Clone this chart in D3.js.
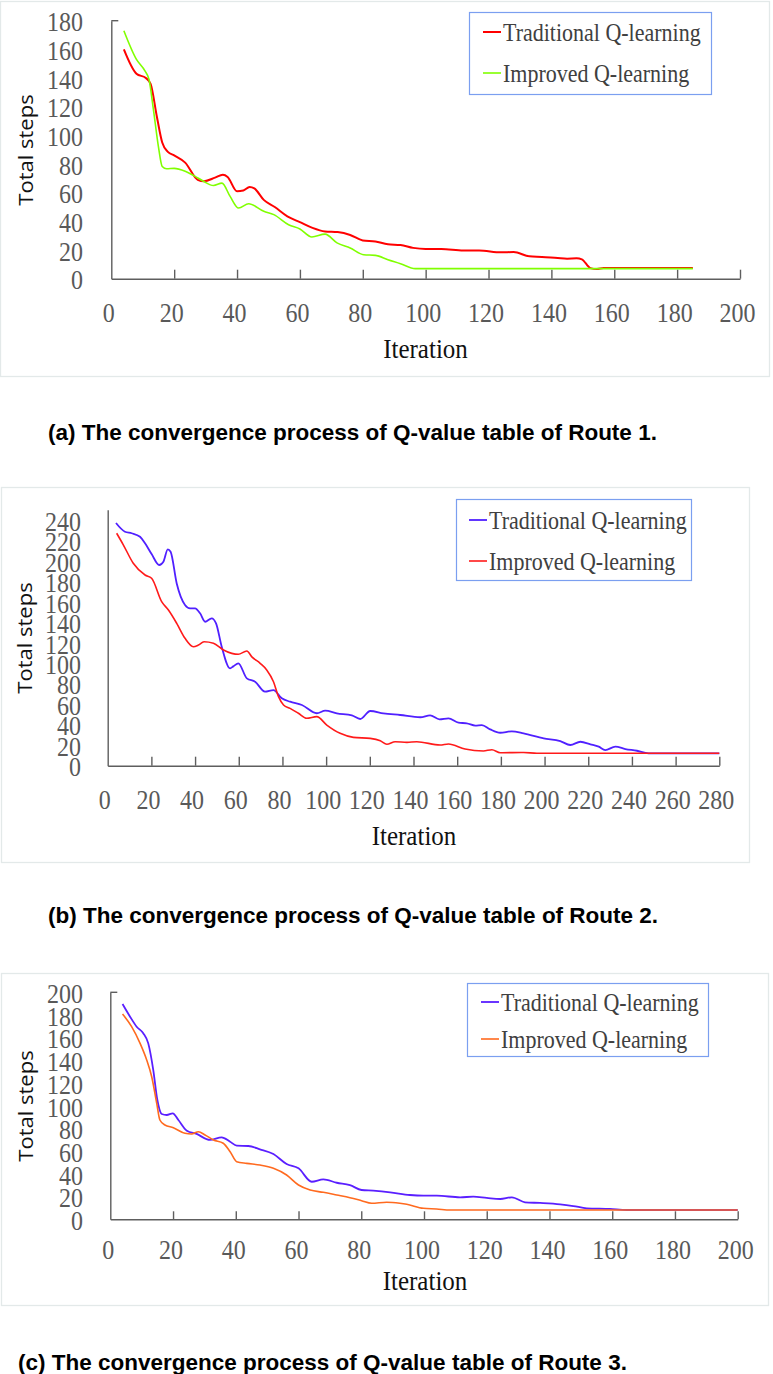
<!DOCTYPE html>
<html><head><meta charset="utf-8">
<script src="https://cdn.jsdelivr.net/npm/d3@7/dist/d3.min.js"></script>
<style>body{margin:0;background:#fff}svg{display:block}</style>
</head><body>
<svg id="chart" width="773" height="1374"></svg>
<script>
// ---------------- DATA ----------------
const seriesNames = ["Traditional Q-learning", "Improved Q-learning"];
const captions = [
  "(a) The convergence process of Q-value table of Route 1.",
  "(b) The convergence process of Q-value table of Route 2.",
  "(c) The convergence process of Q-value table of Route 3."
];
const xAxisTitle = "Iteration";
const yAxisTitle = "Total steps";

const xTicksA = [0, 20, 40, 60, 80, 100, 120, 140, 160, 180, 200];
const yTicksA = [0, 20, 40, 60, 80, 100, 120, 140, 160, 180];
const xTicksB = [0, 20, 40, 60, 80, 100, 120, 140, 160, 180, 200, 220, 240, 260, 280];
const yTicksB = [0, 20, 40, 60, 80, 100, 120, 140, 160, 180, 200, 220, 240];
const xTicksC = [0, 20, 40, 60, 80, 100, 120, 140, 160, 180, 200];
const yTicksC = [0, 20, 40, 60, 80, 100, 120, 140, 160, 180, 200];

// Route 1 : [iteration, total steps]
const route1Traditional = [[4,160],[8,143],[11,140],[12.5,136],[14.5,113],[16.2,95],[18,88.5],[20,86],[23.5,81],[27.5,69],[29.5,68],[33,70.5],[35.5,72.5],[37,71],[40,61],[42,61.5],[44,64],[45.5,63],[48.5,55],[52,50],[56,43.5],[60,39.5],[64,35.5],[68,33],[72,32.5],[76,30.5],[80,26.7],[84,26],[88,24],[92,23.5],[96,21.5],[100,20.7],[105,20.7],[112,19.7],[117,19.7],[124,18.4],[128,18.6],[133,15.6],[137,15.2],[142,14.4],[145,14],[148,14.2],[149.7,13.5],[152.4,7.4],[154.5,6.7],[156.6,7.4],[185,7.4]];
const route1Improved = [[4,173],[8,153],[10.7,145],[12,139],[13.4,118],[15,92],[16.2,78.3],[17.6,76.7],[20,77],[23.5,75],[26.7,71.4],[29.3,68],[32.5,65],[35.2,66.7],[37.8,57.4],[40.5,49.3],[43.7,52.3],[48.5,47],[51.7,44.7],[56.4,37.7],[60,34.7],[63.8,29.1],[68,31.1],[71.8,25],[76,21.4],[80.3,16.7],[84,16.3],[88,13.3],[92,10.5],[96.7,7],[185,7]];

// Route 2
const route2Traditional = [[3.8,237],[7.9,228.5],[11,227],[14.8,223.6],[17.1,217.2],[20.1,206.7],[23.6,196],[25.5,199.2],[27.5,211.3],[28.8,209],[31.6,178],[35.4,157],[37.7,153.7],[40,153.7],[42.3,148.8],[44.6,140.6],[47.6,143.9],[49.6,139],[52.2,116.2],[56,95.1],[57.5,97],[59.8,100],[63.7,85.3],[67.5,82],[72,72.3],[75.9,73.9],[79.7,65.8],[83.5,62.5],[88.9,59.3],[95.7,51.2],[99.6,53.7],[104.9,51.2],[111.8,49.2],[115.6,45.6],[120.2,53.4],[126.2,51.2],[133.9,49.5],[143.1,47.3],[147.6,49.2],[151.9,45.3],[156,46.3],[160.6,42],[164.4,41.4],[168.3,39.1],[171.3,39.7],[175.1,35.5],[179.7,32.2],[185,33.6],[190.4,31.6],[199.6,26.7],[207.2,24.1],[211.8,20.2],[216.4,23.4],[221,20.9],[224.8,18.6],[227.8,15.3],[232.4,18.6],[237,16.3],[242.3,14.6],[247.6,12.1],[280,12.1]];
const route2Improved = [[4.1,227],[7.2,215.5],[11.7,197.7],[17.1,186.2],[20.1,183],[24.7,160.2],[27.8,152],[31.6,139],[35.4,124.4],[39.2,116.2],[41.5,117.8],[44.1,121],[48.4,119.5],[53,113],[56.8,109.7],[59.8,108.8],[63.7,112],[66,106.3],[69.8,100],[72.8,93.5],[75.9,82],[78.2,67.4],[80.5,59.3],[83.5,56],[87.3,51.2],[91.1,46.3],[95.7,47.9],[100.3,39.7],[106.4,31.6],[112.5,27.7],[120.2,26.7],[124.8,24.4],[127.8,20.9],[131.6,23.4],[137,22.8],[141.5,23.4],[152.2,20.2],[156,21.2],[163.6,16.3],[172,14.4],[175.9,15.6],[179.7,12.7],[190.4,12.9],[196.5,12.1],[280,12.1]];

// Route 3
const route3Traditional = [[3.9,189.7],[6.3,178.5],[8.4,169.7],[10.5,163.9],[12.1,155],[13.7,131.5],[15,105.1],[16.4,92.8],[18,91.9],[19.9,93.4],[21.7,87.5],[24.4,78.1],[27.5,75.2],[31.8,69.9],[35.5,72.2],[38.2,68.4],[40.3,64.9],[44,64.6],[47.7,61.7],[52,57.5],[56.2,48.7],[60,44.9],[64.2,33.1],[67.9,35.2],[72.2,32.2],[76.4,30.1],[80.1,25.8],[83.8,25.2],[89.2,23.8],[95.5,21.4],[99.8,20.8],[104.1,20.8],[111.5,19.4],[115.7,19.9],[120,18.8],[124.3,17.9],[128,19.4],[132.2,15],[137,14.4],[143.4,13.2],[147.6,11.7],[151.9,9.7],[159.3,9.1],[164.6,8.2],[200,8.2]];
const route3Improved = [[3.9,180.9],[6.8,169.7],[9.5,155],[11.6,140.4],[13.2,125.6],[14.8,102.2],[15.8,87.5],[17.4,83.1],[20.1,80.7],[23.8,75.8],[25.9,75.2],[28.1,77.2],[30.2,74.3],[32.9,69.9],[36,67],[38.2,59.6],[40.3,50.8],[43.5,49.3],[47.7,47.8],[52,44.9],[56.2,39],[60,30.2],[63.7,25.8],[67.9,23.8],[72.2,21.4],[76.4,19],[80.1,16.4],[83.3,14.1],[88.1,15],[92.3,14.1],[94.5,13.2],[99.8,9.7],[104,9.1],[108.4,8.2],[200,8.2]];

// ---------------- LAYOUT / STYLE ----------------
const svg = d3.select("#chart");
const K = 1.1; // vertical stretch of the source image text
const SERIF = "'Liberation Serif','Times New Roman',serif";
const axisColor = "#5e5e5e";
const tickTextColor = "#595959";

const panels = [
  { box:[0.5,1.5,769,375], xr:[111.3,740], yr:[278.7,20.7], xDom:[0,200], yDom:[0,180],
    xTicks:xTicksA, yTicks:yTicksA, topTick:true, tickLen:9, xLabelY:313.5, xLabelDx:-3, yLabelRight:83,
    legend:[469.5,12.5,242,82], legRowY:[32,73], legLineX:[483,501], legTextX:503,
    xTitle:[425.5,358], yTitle:[28,150],
    series:[route1Traditional, route1Improved], colors:["#ff0000","#80ff00"], widths:[2,1.6],
    caption:[48,440] },
  { box:[1.5,487.5,748,375], xr:[107.7,719.3], yr:[765.7,509.7], xDom:[0,280], yDom:[0,250],
    xTicks:xTicksB, yTicks:yTicksB, topTick:false, tickLen:9, xLabelY:800, xLabelDx:-3.5, yLabelRight:81,
    legend:[456.5,499.5,235,81], legRowY:[520,561], legLineX:[469,487], legTextX:489,
    xTitle:[414,845], yTitle:[27,638],
    series:[route2Traditional, route2Improved], colors:["#5020ff","#ff1a1a"], widths:[1.8,1.6],
    caption:[48,923] },
  { box:[1.5,973.5,767,332], xr:[110.3,737.7], yr:[1219.3,992.3], xDom:[0,200], yDom:[0,200],
    xTicks:xTicksC, yTicks:yTicksC, topTick:true, tickLen:8, xLabelY:1250, xLabelDx:-2.5, yLabelRight:83,
    legend:[467.5,983.5,241,73], legRowY:[1002,1039], legLineX:[481,499], legTextX:501,
    xTitle:[425,1290], yTitle:[28,1106],
    series:[route3Traditional, route3Improved], colors:["#5a1fff","#ff6a1f"], widths:[1.8,1.6],
    caption:[18,1370] }
];

panels.forEach((p, i) => {
  const g = svg.append("g");
  // frame
  g.append("rect").attr("x",p.box[0]).attr("y",p.box[1]).attr("width",p.box[2]).attr("height",p.box[3])
    .attr("fill","#fff").attr("stroke","#e3e9e9").attr("stroke-width",1.3);

  const x = d3.scaleLinear().domain(p.xDom).range(p.xr);
  const y = d3.scaleLinear().domain(p.yDom).range(p.yr);
  const x0 = p.xr[0], y0 = p.yr[0];

  // x axis (ticks point up, inside)
  const xa = g.append("g").attr("transform",`translate(0,${y0})`)
    .call(d3.axisBottom(x).tickValues(p.xTicks).tickSize(-p.tickLen).tickSizeOuter(0));
  xa.select(".domain").attr("stroke",axisColor).attr("stroke-width",1.4);
  xa.selectAll(".tick line").attr("stroke",axisColor).attr("stroke-width",1.4);
  xa.selectAll(".tick").filter(d => d === 0).select("line").remove();
  xa.selectAll(".tick text")
    .attr("font-family",SERIF).attr("font-size",24).attr("fill",tickTextColor)
    .attr("x",p.xLabelDx).attr("y",(p.xLabelY - y0)/K).attr("dy","0.33em")
    .attr("transform",`scale(1,${K})`);

  // y axis
  const ya = g.append("g").attr("transform",`translate(${x0},0)`)
    .call(d3.axisLeft(y).tickValues(p.yTicks).tickSize(0).tickSizeOuter(0));
  ya.select(".domain").attr("stroke",axisColor).attr("stroke-width",1.4);
  ya.selectAll(".tick text")
    .attr("font-family",SERIF).attr("font-size",24).attr("fill",tickTextColor)
    .attr("x",p.yLabelRight - x0).attr("y",1.5/K).attr("dy","0.33em")
    .attr("transform",`scale(1,${K})`);
  if (p.topTick) {
    const yt = y(p.yTicks[p.yTicks.length-1]);
    g.append("line").attr("x1",x0).attr("x2",x0+7).attr("y1",yt).attr("y2",yt)
      .attr("stroke",axisColor).attr("stroke-width",1.4);
  }

  // series lines
  const line = d3.line().x(d => x(d[0])).y(d => y(d[1])).curve(d3.curveMonotoneX);
  p.series.forEach((s, j) => {
    g.append("path").datum(s).attr("d",line).attr("fill","none")
      .attr("stroke",p.colors[j]).attr("stroke-width",p.widths[j]).attr("stroke-linejoin","round");
  });

  // legend
  g.append("rect").attr("x",p.legend[0]).attr("y",p.legend[1]).attr("width",p.legend[2]).attr("height",p.legend[3])
    .attr("fill","#fff").attr("stroke","#7b9ff0").attr("stroke-width",1.2);
  seriesNames.forEach((name, j) => {
    const ry = p.legRowY[j];
    g.append("line").attr("x1",p.legLineX[0]).attr("x2",p.legLineX[1]).attr("y1",ry).attr("y2",ry)
      .attr("stroke",p.colors[j]).attr("stroke-width",p.widths[j]);
    g.append("text").attr("transform",`translate(${p.legTextX},${ry + 8.5}) scale(1,${K})`)
      .attr("font-family",SERIF).attr("font-size",22).attr("fill","#404040").text(name);
  });

  // axis titles
  g.append("text").attr("transform",`translate(${p.xTitle[0]},${p.xTitle[1]}) scale(1,${K})`)
    .attr("text-anchor","middle").attr("font-family",SERIF).attr("font-size",25).attr("fill","#111").text(xAxisTitle);
  g.append("text").attr("transform",`translate(${p.yTitle[0] + 5},${p.yTitle[1]}) scale(1,${K}) rotate(-90)`)
    .attr("text-anchor","middle").attr("font-family","'Open Sans','Noto Sans',sans-serif").attr("font-size",20)
    .attr("fill","#111").text(yAxisTitle);

  // caption
  svg.append("text").attr("x",p.caption[0]).attr("y",p.caption[1])
    .attr("font-family","Arial,'Liberation Sans',sans-serif").attr("font-weight","bold").attr("font-size",22.5)
    .attr("fill","#000").text(captions[i]);
});
</script>
</body></html>
